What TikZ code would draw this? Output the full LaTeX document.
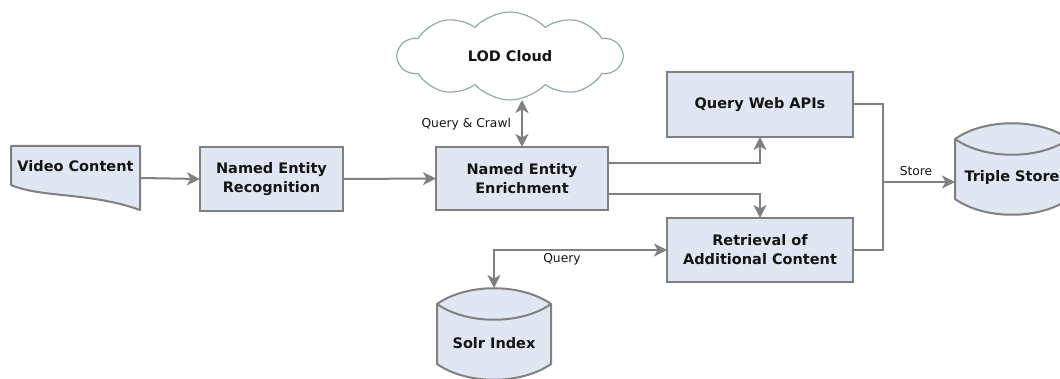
\documentclass[tikz,border=0pt]{standalone}
\usepackage{fontspec}
\setmainfont{DejaVu Sans}
\usetikzlibrary{shapes.symbols,arrows.meta,calc}

\definecolor{boxfill}{RGB}{224,231,243}
\definecolor{edgegray}{RGB}{128,128,128}
\definecolor{cloudline}{RGB}{135,165,170}
\definecolor{inkdark}{RGB}{20,20,20}

% database cylinder drawn around an (invisible) anchor node
\newcommand\drawstore[1]{%
  \draw[storeline]
    ($(#1.north west)+(0,16)$)
      .. controls ($(#1.north west)+(30,-5)$) and ($(#1.north east)+(-30,-5)$) ..
    ($(#1.north east)+(0,16)$)
    -- ($(#1.south east)+(0,-16)$)
      .. controls ($(#1.south east)+(-30,5)$) and ($(#1.south west)+(30,5)$) ..
    ($(#1.south west)+(0,-16)$) -- cycle;
  \draw[storeline, fill=none]
    ($(#1.north west)+(0,16)$)
      .. controls ($(#1.north west)+(30,37)$) and ($(#1.north east)+(-30,37)$) ..
    ($(#1.north east)+(0,16)$);
}

\begin{document}
\begin{tikzpicture}[x=1pt,y=-1pt,
  every node/.style={inner sep=0pt, outer sep=0pt, text=inkdark},
  boldtext/.style={font=\fontsize{14.5}{19}\selectfont\bfseries, align=center},
  procbox/.style={boldtext, draw=edgegray, line width=2pt, fill=boxfill},
  anchorbox/.style={draw=none, fill=none},
  storeline/.style={draw=edgegray, line width=2pt, fill=boxfill, line join=round},
  flowtip/.tip={Stealth[length=13pt,width=13pt,inset=3.5pt]},
  flow/.style={draw=edgegray, line width=2pt, -flowtip},
  plain/.style={draw=edgegray, line width=2pt},
  edgelabel/.style={font=\fontsize{12.3}{15}\selectfont},
]
\useasboundingbox (0,0) rectangle (1060,379);
\clip (0,0) rectangle (1060,379);

% video content (document shape)
\node[anchorbox, minimum width=129pt, minimum height=64pt] (video) at (75.5,178) {};
\draw[storeline]
  (video.north west) -- (video.north east) -- (video.south east)
  .. controls ($(video.south east)+(-50,-18)$) and ($(video.south west)+(30,-12)$) ..
  ($(video.south west)+(0,-25)$) -- cycle;
\node[boldtext] (videotext) at (75.5,166) {Video Content};

% processing steps
\node[procbox, minimum width=143pt, minimum height=64pt] (ner) at (271.5,179) {Named Entity\\Recognition};
\node[procbox, minimum width=172pt, minimum height=63pt] (nee) at (522,178.5) {Named Entity\\Enrichment};
\node[procbox, minimum width=186pt, minimum height=65pt] (qwa) at (760,104.5) {Query Web APIs};
\node[procbox, minimum width=186pt, minimum height=64pt] (rac) at (760,250) {Retrieval of\\Additional Content};

% LOD cloud
\node[cloud, cloud puffs=10, cloud puff arc=95, aspect=2.5, draw=cloudline,
      line width=1.1pt, fill=white, boldtext, minimum width=224pt, minimum height=88pt]
  (lod) at (510,56) {LOD Cloud};

% stores
\node[anchorbox, minimum width=114pt, minimum height=92pt] (solr) at (494,334) {};
\drawstore{solr}
\node[boldtext] (solrtext) at (494,343) {Solr Index};

\node[anchorbox, minimum width=114pt, minimum height=92pt] (triple) at (1012,169) {};
\drawstore{triple}
\node[boldtext] (tripletext) at (1012,178) {Triple Store};

% connectors
\draw[flow] (video.east) -- (ner.west);
\draw[flow] (ner.east) -- (nee.west);
\draw[flowtip-flowtip, draw=edgegray, line width=2pt] (nee.north) -- (nee.north |- lod.south);
\node[edgelabel, anchor=east] (qclabel) at (511,124) {Query \& Crawl};

\coordinate (upout) at ($(nee.east)+(0,-15.5)$);
\coordinate (downout) at ($(nee.east)+(0,15.5)$);
\draw[flow] (upout) -| (qwa.south);
\draw[flow] (downout) -| (rac.north);

\coordinate (qbend) at (rac.west -| solr.north);
\draw[flowtip-flowtip, draw=edgegray, line width=2pt] (rac.west) -- (qbend) -- (solr.north);
\node[edgelabel] (qlabel) at (562,259) {Query};

\coordinate (junction) at (883,182);
\draw[plain] (qwa.east) -| (junction |- rac.east) -- (rac.east);
\draw[flow] (junction) -- (junction -| triple.west);
\node[edgelabel] (storelabel) at (916,171) {Store};
\end{tikzpicture}
\end{document}
